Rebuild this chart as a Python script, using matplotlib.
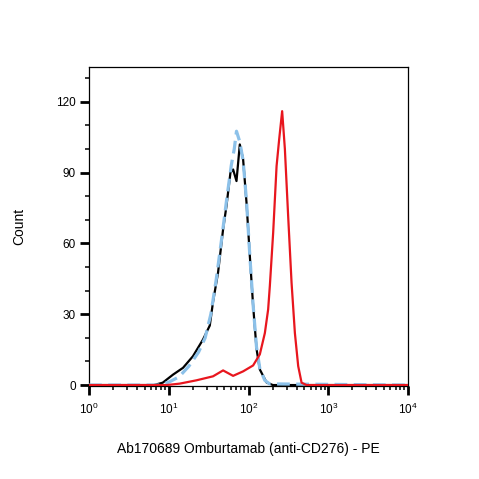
import matplotlib

matplotlib.use("Agg")
import matplotlib.pyplot as plt
from matplotlib.ticker import LogLocator, MultipleLocator, NullFormatter

plt.rcParams["font.family"] = ["Liberation Sans", "DejaVu Sans"]
plt.rcParams["mathtext.fontset"] = "custom"
plt.rcParams["mathtext.rm"] = "Liberation Sans"
plt.rcParams["mathtext.it"] = "Liberation Sans"
plt.rcParams["mathtext.bf"] = "Liberation Sans"

# Isotype / unstained control (black)
black_x = [1, 6.5, 8.4, 11.3, 15.1, 20.1, 26.9, 32.7, 35.9, 41.5, 48.0, 52.9, 59.4,
           64.1, 70.7, 77.8, 85.6, 94.4, 103.8, 114.2, 126.1, 138.7, 168.3, 202, 10000]
black_y = [0, 0, 1.0, 4.4, 7.3, 12.2, 19.3, 25.2, 35.2, 47.6, 65.9, 75.8, 90.0,
           91.3, 86.4, 101.9, 95.6, 77.3, 54.9, 33.7, 15.3, 6.6, 1.1, 0, 0]

# Second control (light blue, dashed)
blue_x = [1, 8.0, 10.4, 13.5, 17.9, 23.7, 28.6, 33.7, 39.5, 46.1, 53.9, 60.8, 66.3,
          70.7, 77.8, 85.6, 94.4, 103.8, 114.2, 126.1, 138.7, 160, 184, 10000]
blue_y = [0, 0, 1.5, 3.5, 8.0, 14.0, 20.0, 30.0, 45.0, 62.0, 80.0, 93.0, 100.0,
          107.5, 103.0, 95.0, 78.0, 55.0, 34.0, 16.0, 7.0, 2.0, 0.5, 0]

# Omburtamab stained (red)
red_x = [1, 9.4, 13.7, 22.2, 35.9, 48.0, 64.1, 85.6, 114.2, 138.7, 160.3, 176.3,
         185.2, 203.8, 224.9, 242.3, 264.2, 285.8, 314.3, 346.7, 381.7, 420, 463,
         535, 10000]
red_y = [0, 0, 0.6, 2.0, 3.7, 6.2, 3.9, 5.8, 8.3, 13.0, 22.0, 32.0,
         42.0, 64.5, 92.7, 104.0, 116.0, 100.0, 71.5, 43.3, 22.0, 8.0, 1.0,
         0, 0]

fig = plt.figure(figsize=(4.79, 4.79), dpi=100)
ax = fig.add_axes([89 / 479, 1 - 386 / 479, 319 / 479, 319 / 479])

ax.plot(black_x, black_y, color="black", lw=1.6, zorder=2)
ax.plot(blue_x, blue_y, color="#8cc1e9", lw=2.3, dashes=(4, 2), zorder=3)
ax.plot(red_x, red_y, color="#e8161e", lw=1.6, zorder=4)

ax.set_xscale("log")
ax.set_xlim(1, 10000)
ax.set_ylim(-0.4, 134.7)

ax.xaxis.set_major_locator(LogLocator(base=10, numticks=10))
ax.xaxis.set_minor_locator(LogLocator(base=10, subs=range(2, 10), numticks=50))
ax.xaxis.set_minor_formatter(NullFormatter())
ax.yaxis.set_major_locator(MultipleLocator(30))
ax.yaxis.set_minor_locator(MultipleLocator(10))

ax.tick_params(which="major", direction="out", length=6.5, width=2, labelsize=8.5, pad=3)
ax.tick_params(which="minor", direction="out", length=3, width=1.1)
ax.tick_params(axis="x", which="major", pad=5)
for spine in ax.spines.values():
    spine.set_linewidth(0.9)

ax.set_xlabel("Ab170689 Omburtamab (anti-CD276) - PE", fontsize=10)
ax.set_ylabel("Count", fontsize=10)
ax.xaxis.set_label_coords(0.5, -0.175)
ax.yaxis.set_label_coords(-0.197, 0.5)

plt.savefig("out.png", dpi=100)
